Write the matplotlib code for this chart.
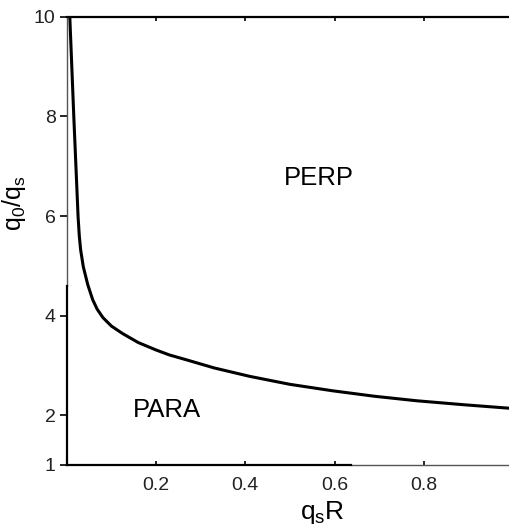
import matplotlib
matplotlib.use("Agg")
import matplotlib.pyplot as plt

plt.rcParams['font.family'] = ['Liberation Sans', 'DejaVu Sans']
plt.rcParams['mathtext.fontset'] = 'custom'
plt.rcParams['mathtext.rm'] = 'Liberation Sans'
plt.rcParams['mathtext.it'] = 'Liberation Sans'

# phase boundary
qsR = [0.0067, 0.0157, 0.0253, 0.028, 0.031, 0.037, 0.047, 0.058, 0.068,
       0.081, 0.10, 0.125, 0.16, 0.20, 0.23, 0.269, 0.33, 0.41, 0.50,
       0.596, 0.69, 0.784, 0.89, 0.992]
q0_qs = [10.0, 7.99, 5.98, 5.6, 5.32, 4.98, 4.62, 4.32, 4.13,
         3.96, 3.79, 3.64, 3.46, 3.31, 3.21, 3.11, 2.95, 2.78, 2.62,
         2.49, 2.38, 2.29, 2.21, 2.14]

x_ticks = [0.2, 0.4, 0.6, 0.8]
y_ticks = [1, 2, 4, 6, 8, 10]

fig = plt.figure(figsize=(5.10, 5.29), dpi=100)
ax = fig.add_axes([0.131, 0.121, 0.875, 0.847])

ax.plot(qsR, q0_qs, color='black', lw=2.2, solid_capstyle='butt',
        solid_joinstyle='round')

ax.set_xlim(0, 1)
ax.set_ylim(1, 10)
ax.set_xticks(x_ticks)
ax.set_xticklabels([str(v) for v in x_ticks])
ax.set_yticks(y_ticks)
ax.set_yticklabels([str(v) for v in y_ticks])

ax.tick_params(axis='x', direction='in', top=True, length=3, width=1.2,
               labelsize=14, pad=9, labelcolor='#222222')
ax.tick_params(axis='y', direction='out', length=5, width=1.2,
               labelsize=14, pad=3, labelcolor='#222222')

ax.spines['right'].set_visible(False)
for s in ['left', 'bottom', 'top']:
    ax.spines[s].set_linewidth(1.6)
# scanned look: part of the frame is thin and grey
ax.spines['left'].set_bounds(1, 4.6)
ax.spines['bottom'].set_bounds(0, 0.636)
ax.plot([0, 0], [4.6, 10], color='#555555', lw=1.0, clip_on=False)
ax.plot([0.636, 1], [1, 1], color='#555555', lw=1.0, clip_on=False)

ax.text(0.225, 2.1, 'PARA', fontsize=18.5, ha='center', va='center')
ax.text(0.565, 6.76, 'PERP', fontsize=18.5, ha='center', va='center')

ax.set_xlabel(r'$\mathrm{q_sR}$', fontsize=19)
ax.set_ylabel(r'$\mathrm{q_0/q_s}$', fontsize=18)
ax.xaxis.set_label_coords(0.573, -0.075)
ax.yaxis.set_label_coords(-0.088, 0.585)

fig.savefig('out.png', dpi=100)
